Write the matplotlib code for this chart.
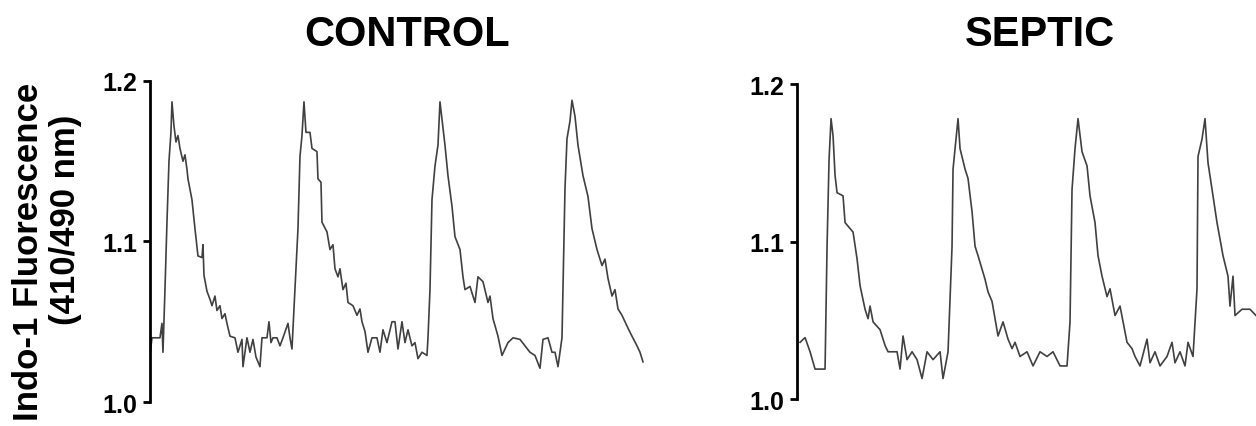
import matplotlib
matplotlib.use("Agg")
import matplotlib.pyplot as plt

plt.rcParams["font.family"] = ["Liberation Sans", "DejaVu Sans"]
plt.rcParams["font.weight"] = "bold"

# Indo-1 ratio traces (time in arbitrary sample units)
t_control = [0, 2, 10, 12, 13, 15, 17, 19, 21, 22,
             24, 26, 28, 30, 33, 35, 37, 38, 42, 45, 48, 52, 53, 54, 57, 60, 62, 65, 67, 70, 72, 75, 77, 80,
             85, 88, 92, 93, 97, 100, 103, 106, 110, 112, 117, 119, 121, 123, 127, 130, 133, 138, 140, 142,
             145, 148, 150, 152, 154,
             156, 160, 162, 167, 168, 171, 172, 177, 180, 183, 185, 188, 190, 193, 196, 198, 203, 207, 210,
             212, 215, 218, 222, 227, 230, 233, 237, 242, 245, 248, 252, 255, 258, 262, 265, 268, 272, 277, 278,
             280, 282, 285, 288, 290,
             292, 295, 298, 302, 305, 310, 313, 315, 320, 325, 328, 333, 338, 340, 343, 348, 352, 358, 363,
             370, 375, 380, 385, 390, 393, 398, 402, 405, 408, 412,
             413, 415, 417, 420, 422,
             425, 428, 433, 438, 442, 447, 452, 455, 458, 462, 465, 468, 472, 475, 478, 482, 487, 490, 493]
f_control = [1.029, 1.040, 1.040, 1.049, 1.031, 1.070, 1.112, 1.150, 1.168, 1.187,
             1.172, 1.162, 1.166, 1.158, 1.150, 1.154, 1.145, 1.139, 1.126, 1.108, 1.091, 1.090, 1.098, 1.079,
             1.069, 1.064, 1.060, 1.066, 1.057, 1.060, 1.052, 1.055, 1.049, 1.041,
             1.040, 1.031, 1.039, 1.022, 1.040, 1.031, 1.039, 1.028, 1.022, 1.040, 1.040, 1.050, 1.037, 1.040,
             1.040, 1.035, 1.040, 1.049, 1.040, 1.033,
             1.070, 1.108, 1.153, 1.166, 1.187,
             1.168, 1.168, 1.158, 1.156, 1.139, 1.137, 1.112, 1.106, 1.095, 1.098, 1.083, 1.078, 1.083, 1.070,
             1.074, 1.062, 1.060, 1.054, 1.058, 1.050, 1.044, 1.031, 1.040, 1.040, 1.031, 1.045, 1.037, 1.050,
             1.050, 1.033, 1.050, 1.037, 1.045, 1.035, 1.037, 1.027, 1.031, 1.029, 1.040,
             1.070, 1.126, 1.147, 1.160, 1.187,
             1.176, 1.160, 1.141, 1.122, 1.103, 1.095, 1.078, 1.070, 1.072, 1.062, 1.078, 1.075, 1.062, 1.066,
             1.052, 1.041, 1.029, 1.037, 1.040,
             1.039, 1.035, 1.031, 1.029, 1.021, 1.039, 1.040, 1.031, 1.031, 1.022, 1.040,
             1.070, 1.133, 1.164, 1.175, 1.188,
             1.178, 1.160, 1.141, 1.128, 1.108, 1.095, 1.085, 1.089, 1.077, 1.066, 1.070, 1.058, 1.054, 1.050,
             1.046, 1.041, 1.035, 1.031, 1.025]

t_septic = [3, 8, 13, 18, 28, 30, 32, 34, 36, 38, 40, 46, 48, 56, 60, 63, 68, 71, 73, 76, 83, 88, 91,
            100, 103, 106, 110, 115, 120, 125, 130, 136, 143, 146, 151,
            155, 156, 161, 163, 168, 171, 175, 178, 181, 188, 191, 195, 201, 206, 211, 215, 218, 223,
            230, 236, 243, 250, 256, 263, 270,
            273, 275, 278, 281, 285, 290, 293, 298, 301, 305, 310, 313, 318, 323, 330, 335, 338, 343,
            350, 353, 358, 363, 370, 375, 378, 383, 388, 391, 396,
            400, 401, 405, 408, 411, 416, 420, 426, 431, 433, 436, 438, 445, 453, 459]
f_septic = [1.036, 1.039, 1.030, 1.019, 1.019, 1.097, 1.152, 1.178, 1.167, 1.142, 1.131, 1.129, 1.112,
            1.106, 1.089, 1.072, 1.057, 1.051, 1.059, 1.049, 1.044, 1.034, 1.030,
            1.030, 1.019, 1.040, 1.025, 1.030, 1.025, 1.013, 1.030, 1.025, 1.030, 1.013, 1.030,
            1.097, 1.146, 1.178, 1.159, 1.146, 1.140, 1.119, 1.097, 1.091, 1.076, 1.068, 1.062, 1.040,
            1.049, 1.038, 1.032, 1.036, 1.027,
            1.030, 1.021, 1.030, 1.027, 1.030, 1.021, 1.021,
            1.049, 1.133, 1.159, 1.178, 1.157, 1.148, 1.129, 1.112, 1.091, 1.078, 1.065, 1.070, 1.053,
            1.059, 1.036, 1.032, 1.027, 1.021,
            1.038, 1.023, 1.030, 1.021, 1.027, 1.036, 1.023, 1.030, 1.021, 1.036, 1.027,
            1.070, 1.154, 1.165, 1.178, 1.150, 1.129, 1.112, 1.091, 1.078, 1.059, 1.078, 1.053, 1.057,
            1.057, 1.053]

yticks = [1.0, 1.1, 1.2]
titles = ["CONTROL", "SEPTIC"]

fig = plt.figure(figsize=(12.56, 4.27), dpi=100)
ax1 = fig.add_axes([0.1194, 0.0562, 0.4005, 0.7518])
ax2 = fig.add_axes([0.6346, 0.0632, 0.3654, 0.7377])

panels = [(ax1, t_control, f_control, 503), (ax2, t_septic, f_septic, 459)]
for ax, t, f, xmax in panels:
    ax.plot(t, f, color="#404040", lw=1.2)
    ax.set_xlim(0, xmax)
    ax.set_ylim(1.0, 1.2)
    ax.set_yticks(yticks)
    ax.set_yticklabels(["1.0", "1.1", "1.2"], fontsize=18, fontweight="bold")
    ax.tick_params(axis="y", length=5, width=2, pad=4)
    ax.set_xticks([])
    for s in ["top", "right", "bottom"]:
        ax.spines[s].set_visible(False)
    ax.spines["left"].set_linewidth(2)
    ax.patch.set_alpha(0)

fig.text(0.324, 0.918, titles[0], ha="center", va="center", fontsize=30, fontweight="bold")
fig.text(0.828, 0.918, titles[1], ha="center", va="center", fontsize=30, fontweight="bold")

fig.text(0.023, 0.41, "Indo-1 Fluorescence", rotation=90, ha="center", va="center",
         fontsize=25, fontweight="bold")
fig.text(0.052, 0.485, "(410/490 nm)", rotation=90, ha="center", va="center",
         fontsize=25, fontweight="bold")

fig.savefig("out.png", dpi=100)
